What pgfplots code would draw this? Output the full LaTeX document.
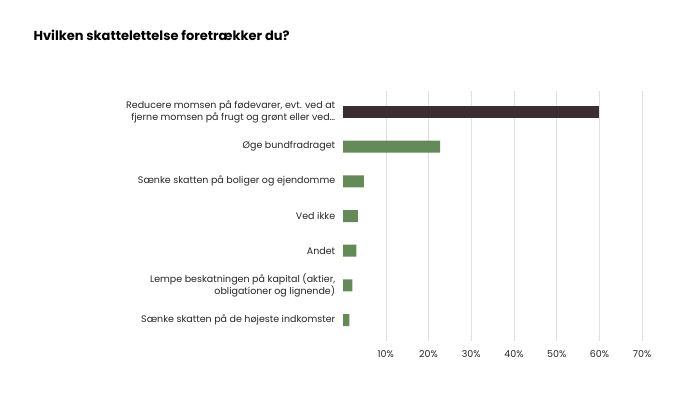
\documentclass[border=0pt]{standalone}
\usepackage{pgfplots}
\pgfplotsset{compat=1.18}
\usepackage{fontspec}
\setmainfont{Poppins}
\begin{document}
\begin{tikzpicture}
\path[use as bounding box] (0,0) rectangle (680pt,401pt);
\node[anchor=west,font=\bfseries\fontsize{13}{15}\selectfont] at (30pt,366pt) {Hvilken skattelettelse foretrækker du?};
\begin{axis}[at={(343pt,60pt)},anchor=south west,
  width=312pt,height=250pt,scale only axis,
  xbar, bar width=12pt, bar shift=0pt,
  xmin=0,xmax=73,ymin=-0.6,ymax=6.6,
  xtick={10,20,30,40,50,60,70},
  xticklabel={\pgfmathprintnumber{\tick}\%},
  /pgf/number format/assume math mode=true,
  xmajorgrids, grid style={gray!25},
  axis line style={draw=none}, tick style={draw=none},
  ytick={0,1,2,3,4,5,6}, y dir=reverse,
  yticklabels={{Reducere momsen på fødevarer, evt. ved at\\fjerne momsen på frugt og grønt eller ved\ldots},{Øge bundfradraget},{Sænke skatten på boliger og ejendomme},{Ved ikke},{Andet},{Lempe beskatningen på kapital (aktier,\\obligationer og lignende)},{Sænke skatten på de højeste indkomster}},
  yticklabel style={align=right,font=\fontsize{9.5}{12}\selectfont,text=black!85},
  xticklabel style={font=\fontsize{9.5}{12}\selectfont,text=black!85,yshift=-6pt},
]
\addplot[fill={rgb,255:red,58;green,46;blue,50}, draw=none] coordinates {(60,0)};
\addplot[fill={rgb,255:red,98;green,139;blue,88}, draw=none] coordinates {(22.7,1) (4.9,2) (3.5,3) (3.1,4) (2.2,5) (1.5,6)};
\end{axis}
\end{tikzpicture}
\end{document}
